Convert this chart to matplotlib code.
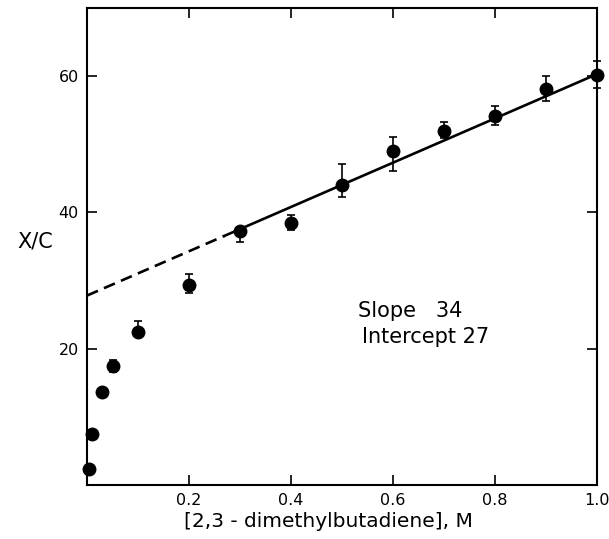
import matplotlib
matplotlib.use('Agg')
import matplotlib.pyplot as plt
import numpy as np

# ── Data ──────────────────────────────────────────────────────────────────────
conc = [0.003, 0.01, 0.03, 0.05, 0.1, 0.2, 0.3, 0.4, 0.5, 0.6, 0.7, 0.8, 0.9, 1.0]
xc_ratio = [2.3, 7.5, 13.6, 17.5, 22.5, 29.4, 37.2, 38.4, 44.0, 49.0, 52.0, 54.2, 58.1, 60.1]
err_low = [0, 0, 0, 0.9, 0.8, 1.2, 1.6, 1.0, 1.8, 2.9, 1.1, 1.3, 1.7, 1.9]
err_high = [0, 0, 0, 0.9, 1.6, 1.6, 0.7, 1.2, 3.1, 2.0, 1.2, 1.4, 1.9, 2.1]

fit_intercept = 27.8
fit_slope = 32.5
dash_end = 0.27   # where the extrapolated (dashed) part turns solid

x_ticks = [0.2, 0.4, 0.6, 0.8, 1.0]
x_ticklabels = ['0.2', '0.4', '0.6', '0.8', '1.0']
y_ticks = [20, 40, 60]
y_ticklabels = ['20', '40', '60']

# ── Plot ──────────────────────────────────────────────────────────────────────
fig = plt.figure(figsize=(6.09, 5.39), dpi=100)
ax = fig.add_axes([0.1429, 0.1002, 0.8374, 0.8850])

xd = np.array([0.0, dash_end])
xs = np.array([dash_end, 1.0])
ax.plot(xd, fit_intercept + fit_slope * xd, color='black', lw=1.9,
        linestyle=(0, (4.5, 2.5)), zorder=2)
ax.plot(xs, fit_intercept + fit_slope * xs, color='black', lw=1.9, zorder=2)

ax.errorbar(conc, xc_ratio, yerr=[err_low, err_high], fmt='o', color='black',
            markersize=9, elinewidth=1.2, capsize=2.8, capthick=1.2,
            clip_on=False, zorder=3)

ax.set_xlim(0, 1.0)
ax.set_ylim(0, 70)

ax.set_xticks(x_ticks)
ax.set_xticklabels(x_ticklabels)
ax.set_yticks(y_ticks)
ax.set_yticklabels(y_ticklabels)
ax.tick_params(direction='in', length=7, width=1.2, labelsize=11.5, pad=6,
               top=True, right=True)

for sp in ax.spines.values():
    sp.set_linewidth(1.5)

ax.set_xlabel('[2,3 - dimethylbutadiene], M', fontsize=14.5)
ax.xaxis.set_label_coords(0.4725, -0.057)
ax.set_ylabel('X/C', fontsize=15, rotation=0, ha='center', va='center')
ax.yaxis.set_label_coords(-0.102, 0.511)

ax.text(0.531, 24.7, 'Slope   34', fontsize=15, ha='left', va='baseline')
ax.text(0.539, 20.9, 'Intercept 27', fontsize=15, ha='left', va='baseline')

fig.savefig('out.png', dpi=100)
plt.close(fig)
